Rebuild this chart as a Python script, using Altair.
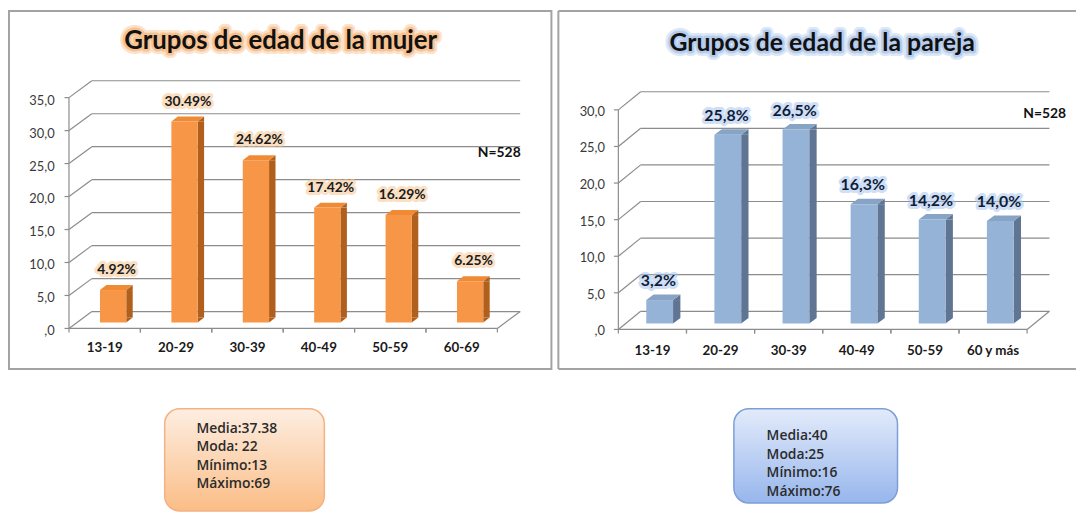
import altair as alt
import pandas as pd

TITLE_MUJER = "Grupos de edad de la mujer"
TITLE_PAREJA = "Grupos de edad de la pareja"
N_LABEL = "N=528"

cats_mujer = ["13-19", "20-29", "30-39", "40-49", "50-59", "60-69"]
pct_mujer = [4.92, 30.49, 24.62, 17.42, 16.29, 6.25]
lab_mujer = ["4.92%", "30.49%", "24.62%", "17.42%", "16.29%", "6.25%"]

cats_pareja = ["13-19", "20-29", "30-39", "40-49", "50-59", "60 y más"]
pct_pareja = [3.2, 25.8, 26.5, 16.3, 14.2, 14.0]
lab_pareja = ["3,2%", "25,8%", "26,5%", "16,3%", "14,2%", "14,0%"]

ticks_mujer = [0, 5, 10, 15, 20, 25, 30, 35]
ticklab_mujer = [",0", "5,0", "10,0", "15,0", "20,0", "25,0", "30,0", "35,0"]
ticks_pareja = [0, 5, 10, 15, 20, 25, 30]
ticklab_pareja = [",0", "5,0", "10,0", "15,0", "20,0", "25,0", "30,0"]

stats_mujer = ["Media:37.38", "Moda: 22", "Mínimo:13", "Máximo:69"]
stats_pareja = ["Media:40", "Moda:25", "Mínimo:16", "Máximo:76"]

FONT = "Lato"
H = 507
S = 40.0  # custom symbol scale: size = (2*S)^2


def sym(pts):
    return "M" + " L".join(f"{x / S:.4f},{y / S:.4f}" for x, y in pts) + " Z"


def panel(cats, vals, labs, ticks, ticklabs, stats, title, st):
    W = st["W"]
    df = pd.DataFrame({"cat": cats, "v": vals, "lab": labs})
    tk = pd.DataFrame({"t": ticks, "tl": ticklabs})
    one = pd.DataFrame({"k": [0]})
    ysc = alt.Scale(domain=[0, ticks[-1]], range=st["yrange"], nice=False, zero=False)
    xsc = alt.Scale(type="band", domain=cats, range=st["xrange"], paddingInner=0, paddingOuter=0)

    def X(**kw):
        return alt.X("cat:N", scale=xsc, axis=None, **kw)

    Yv = alt.Y("v:Q", scale=ysc, axis=None)
    Yt = alt.Y("t:Q", scale=ysc, axis=None)

    def Y0():
        return alt.YDatum(0, scale=ysc, axis=None)

    ax = st["ax"]
    ax_end = st["xrange"][1]
    dx, dy = st["dx"], st["dy"]
    grid = "#8c8c8c"
    L = []

    # frame
    if st["frame"] == "rect":
        L.append(alt.Chart(one).mark_rect(fill="transparent", stroke="#a3a3a3", strokeWidth=2).encode(
            x=alt.value(1), x2=alt.value(W - 1), y=alt.value(1), y2=alt.value(362)))
    else:
        for a in [dict(x=alt.value(1), x2=alt.value(W), y=alt.value(1)),
                  dict(x=alt.value(1), x2=alt.value(W), y=alt.value(362)),
                  dict(x=alt.value(1), y=alt.value(1), y2=alt.value(362))]:
            L.append(alt.Chart(one).mark_rule(color="#a3a3a3", strokeWidth=2).encode(**a))

    # back wall gridlines
    L.append(alt.Chart(tk).mark_rule(color=grid, strokeWidth=1.2, yOffset=-dy).encode(
        x=alt.value(ax + dx), x2=alt.value(ax_end + dx), y=Yt))
    # side wall diagonals
    L.append(alt.Chart(tk).mark_rule(color=grid, strokeWidth=1.2, y2Offset=-dy).encode(
        x=alt.value(ax), x2=alt.value(ax + dx), y=Yt, y2=alt.Y2("t:Q")))
    # front vertical axis
    L.append(alt.Chart(one).mark_rule(color=grid, strokeWidth=1.2).encode(
        x=alt.value(ax), y=Y0(), y2=alt.datum(ticks[-1])))
    # tick marks
    L.append(alt.Chart(tk).mark_rule(color=grid, strokeWidth=1.2).encode(
        x=alt.value(ax - 4.5), x2=alt.value(ax), y=Yt))
    # y labels
    L.append(alt.Chart(tk).mark_text(align="right", baseline="middle", dy=st["ylab_dy"], font=FONT,
                                     fontSize=13, color="#3a3a3a").encode(
        x=alt.value(st["ylab_x"]), y=Yt, text="tl:N"))
    # floor front edge and right diagonal
    L.append(alt.Chart(one).mark_rule(color=grid, strokeWidth=1.2).encode(
        x=alt.value(ax), x2=alt.value(ax_end), y=Y0()))
    L.append(alt.Chart(one).mark_rule(color=grid, strokeWidth=1.2, y2Offset=-dy).encode(
        x=alt.value(ax_end), x2=alt.value(ax_end + dx), y=Y0(), y2=alt.datum(0)))
    for bp in (0, 1):
        L.append(alt.Chart(df).mark_rule(color=grid, strokeWidth=1.2, y2Offset=4).encode(
            x=X(bandPosition=bp), y=Y0(), y2=alt.datum(0)))
    # category labels
    L.append(alt.Chart(df).mark_text(baseline="middle", dy=st["cat_dy"], font=FONT, fontSize=13.5,
                                     fontWeight="bold", color="#1a1a1a").encode(
        x=X(), y=Y0(), text="cat:N"))

    # 3D bars
    fw, sw, tdy, fc, base = st["fw"], st["sw"], st["tdy"], st["fc"], st["base"]
    R = fc + fw / 2
    sc = R + sw / 2
    L.append(alt.Chart(df).mark_bar(width=sw, xOffset=sc, yOffset=-base, y2Offset=-base - tdy,
                                    color=st["side"]).encode(x=X(), y=Yv, y2=alt.datum(0)))
    L.append(alt.Chart(df).mark_point(shape=sym([(0, 0), (sw, -tdy), (sw, 0)]), size=(2 * S) ** 2,
                                      filled=True, opacity=1, strokeWidth=0, color=st["side"],
                                      xOffset=R, yOffset=-base).encode(x=X(), y=Yv))
    L.append(alt.Chart(df).mark_point(shape=sym([(0, -tdy), (sw, -tdy), (0, 0)]), size=(2 * S) ** 2,
                                      filled=True, opacity=1, strokeWidth=0, color=st["side"],
                                      xOffset=R, yOffset=-base).encode(x=X(), y=Y0()))
    L.append(alt.Chart(df).mark_point(shape=sym([(-fw, 0), (0, 0), (sw, -tdy), (sw - fw, -tdy)]),
                                      size=(2 * S) ** 2, filled=True, opacity=1, strokeWidth=0,
                                      color=st["top"], xOffset=R, yOffset=-base).encode(x=X(), y=Yv))
    L.append(alt.Chart(df).mark_bar(width=fw, xOffset=fc, yOffset=-base, y2Offset=-base,
                                    color=st["front"]).encode(x=X(), y=Yv, y2=alt.datum(0)))

    # value labels with glow
    vl = dict(baseline="middle", font=FONT, fontSize=st["vfs"], fontWeight="bold",
              xOffset=st["vx"], yOffset=st["vy"])
    L.append(alt.Chart(df).mark_text(fill=st["vglow"], stroke=st["vglow"], strokeWidth=6,
                                     strokeJoin="round", opacity=0.55, **vl).encode(
        x=X(), y=Yv, text="lab:N"))
    L.append(alt.Chart(df).mark_text(color=st["vcol"], **vl).encode(x=X(), y=Yv, text="lab:N"))

    # title with glow
    tt = dict(text=title, font=FONT, fontSize=st["tfs"], fontWeight="bold", baseline="middle",
              align="center")
    L.append(alt.Chart(one).mark_text(fill=st["tglow"], stroke=st["tglow"], strokeWidth=10,
                                      strokeJoin="round", opacity=0.35, **tt).encode(
        x=alt.value(st["tx"]), y=alt.value(st["ty"])))
    L.append(alt.Chart(one).mark_text(fill=st["tglow"], stroke=st["tglow"], strokeWidth=5,
                                      strokeJoin="round", opacity=0.6, **tt).encode(
        x=alt.value(st["tx"]), y=alt.value(st["ty"])))
    L.append(alt.Chart(one).mark_text(color="#111111", **tt).encode(
        x=alt.value(st["tx"]), y=alt.value(st["ty"])))

    # N label
    L.append(alt.Chart(one).mark_text(text=N_LABEL, font=FONT, fontSize=14, fontWeight="bold",
                                      align="right", baseline="middle", color="#111111").encode(
        x=alt.value(st["nx"]), y=alt.value(st["ny"])))

    # stats box
    bx0, bx1, by0, by1 = st["box"]
    grad = alt.LinearGradient(gradient="linear",
                              stops=[alt.GradientStop(color=st["box_top"], offset=0),
                                     alt.GradientStop(color=st["box_bot"], offset=1)],
                              x1=0, x2=0, y1=0, y2=1)
    L.append(alt.Chart(one).mark_rect(fill=grad, stroke=st["box_stroke"], strokeWidth=1.5,
                                      cornerRadius=15).encode(
        x=alt.value(bx0), x2=alt.value(bx1), y=alt.value(by0), y2=alt.value(by1)))
    L.append(alt.Chart(one).mark_text(text=stats, font="Open Sans", fontSize=st["sfs"],
                                      fontWeight=600, align="left", baseline="top",
                                      lineHeight=st["slh"], color="#2b2b2b").encode(
        x=alt.value(st["sx"]), y=alt.value(st["sy"])))

    return alt.layer(*L).properties(width=W, height=H)


st_m = dict(W=549, frame="rect", yrange=[321, 321 - 6.65 * 35], xrange=[61.5, 493.5], ax=61.5,
            dx=23, dy=17, ylab_x=47, ylab_dy=3, cat_dy=20,
            fw=26.5, sw=6.5, tdy=5, fc=8.5, base=6,
            front="#f79646", side="#b0601c", top="#f08a35",
            vfs=14, vx=12, vy=-26, vglow="#f9c592", vcol="#1a1a1a",
            tfs=26, tx=275, ty=31, tglow="#f7ad6a",
            nx=517, ny=144,
            box=[158, 319, 402, 505], box_top="#fdeee2", box_bot="#fbbd86", box_stroke="#f4b183",
            sfs=14, slh=18.7, sx=190, sy=415)

st_p = dict(W=523, frame="open", yrange=[322, 322 - 7.38 * 30], xrange=[61.5, 473.7], ax=61.5,
            dx=22.5, dy=18.3, ylab_x=48, ylab_dy=2, cat_dy=22,
            fw=27, sw=7.4, tdy=5.5, fc=7.3, base=6,
            front="#95b3d7", side="#5f7593", top="#87a3c6",
            vfs=16, vx=6, vy=-25, vglow="#a9c6ee", vcol="#0f1d38",
            tfs=25, tx=267, ty=33.7, tglow="#9dbbe6",
            nx=513, ny=105,
            box=[178, 343, 402, 497], box_top="#e3ebfb", box_bot="#97b6ec", box_stroke="#7c9fd8",
            sfs=14, slh=18.5, sx=211, sy=423)

left = panel(cats_mujer, pct_mujer, lab_mujer, ticks_mujer, ticklab_mujer, stats_mujer, TITLE_MUJER, st_m)
right = panel(cats_pareja, pct_pareja, lab_pareja, ticks_pareja, ticklab_pareja, stats_pareja, TITLE_PAREJA, st_p)

chart = alt.hconcat(left, right, spacing=5).properties(
    padding=0, bounds="flush", background="white"
).configure_view(strokeWidth=0)

chart.save("out.html", embed_options={"renderer": "svg", "actions": False})
